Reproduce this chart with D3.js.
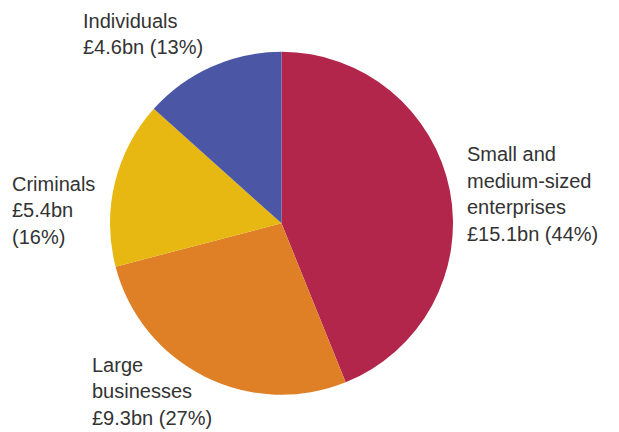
<!DOCTYPE html>
<html>
<head>
<meta charset="utf-8">
<script src="https://cdn.jsdelivr.net/npm/d3@7"></script>
<style>
  html, body { margin: 0; padding: 0; background: #fff; }
  svg { display: block; }
  text { font-family: "Liberation Sans", Arial, Helvetica, sans-serif; font-size: 20px; fill: #333; }
</style>
</head>
<body>
<svg id="chart" width="619" height="432"></svg>
<script>
// Cost of fraud by victim group, £bn
const categories = ["Small and medium-sized enterprises", "Large businesses", "Criminals", "Individuals"];
const values = [15.1, 9.3, 5.4, 4.6];
const colors = ["#b3264b", "#df7f26", "#e6b811", "#4b57a5"];
// How each label's name wraps onto lines
const nameLines = [
  ["Small and", "medium-sized", "enterprises"],
  ["Large", "businesses"],
  ["Criminals"],
  ["Individuals"]
];
// Whether the percentage goes on its own line
const splitPct = [false, false, true, false];

const W = 619, H = 432;
const cx = 281.5, cy = 223.3, r = 171.5;
const lineH = 26.6;
// Label anchor (x, first baseline) per slice
const labelPos = [
  [467, 161],
  [92, 371.7],
  [12, 190.7],
  [83, 27.5]
];

const svg = d3.select("#chart");
const total = d3.sum(values);

const pie = d3.pie().sort(null).value(d => d).startAngle(0).endAngle(2 * Math.PI);
const arc = d3.arc().innerRadius(0).outerRadius(r);

svg.append("g")
  .attr("transform", `translate(${cx},${cy})`)
  .selectAll("path")
  .data(pie(values))
  .join("path")
  .attr("d", arc)
  .attr("fill", (d, i) => colors[i]);

const fmtMoney = v => "£" + d3.format(".1f")(v) + "bn";
const fmtPct = v => "(" + Math.round(v / total * 100) + "%)";

values.forEach((v, i) => {
  const lines = nameLines[i].slice();
  if (splitPct[i]) { lines.push(fmtMoney(v)); lines.push(fmtPct(v)); }
  else lines.push(fmtMoney(v) + " " + fmtPct(v));
  const t = svg.append("text")
    .attr("x", labelPos[i][0])
    .attr("y", labelPos[i][1]);
  lines.forEach((s, k) => {
    t.append("tspan")
      .attr("x", labelPos[i][0])
      .attr("y", labelPos[i][1] + k * lineH)
      .text(s);
  });
});
</script>
</body>
</html>
